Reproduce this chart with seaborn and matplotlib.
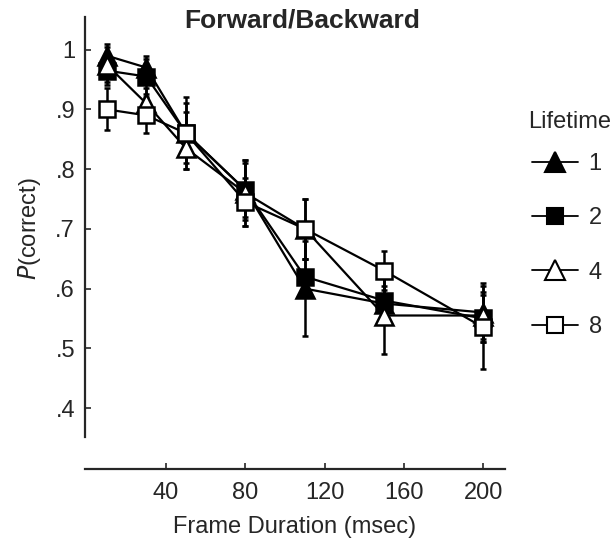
import numpy as np
import pandas as pd
import matplotlib
matplotlib.use('Agg')
import matplotlib.pyplot as plt
import seaborn as sns
from matplotlib.lines import Line2D

# frame durations (msec)
durations = [10, 30, 50, 80, 110, 150, 200]
lifetimes = ['1', '2', '4', '8']

# P(correct) per lifetime
p_life1 = [0.99, 0.97, 0.86, 0.765, 0.60, 0.575, 0.56]
p_life2 = [0.965, 0.955, 0.86, 0.765, 0.62, 0.58, 0.55]
p_life4 = [0.975, 0.91, 0.835, 0.76, 0.70, 0.555, 0.555]
p_life8 = [0.90, 0.89, 0.86, 0.745, 0.70, 0.63, 0.535]

# error bar half-widths
err_life1 = [0.02, 0.02, 0.05, 0.05, 0.08, 0.03, 0.05]
err_life2 = [0.025, 0.03, 0.035, 0.045, 0.03, 0.04, 0.04]
err_life4 = [0.03, 0.025, 0.035, 0.055, 0.05, 0.065, 0.04]
err_life8 = [0.035, 0.03, 0.06, 0.04, 0.05, 0.033, 0.07]

series = {'1': (p_life1, err_life1), '2': (p_life2, err_life2),
          '4': (p_life4, err_life4), '8': (p_life8, err_life8)}
marker_map = {'1': '^', '2': 's', '4': '^', '8': 's'}
fill_map = {'1': 'black', '2': 'black', '4': 'white', '8': 'white'}

rows = []
for lt, (vals, errs) in series.items():
    for d, v, e in zip(durations, vals, errs):
        rows.append({'Frame': d, 'P': v, 'err': e, 'Lifetime': lt})
df = pd.DataFrame(rows)

sns.set_style('ticks')
plt.rcParams['font.family'] = ['Liberation Sans', 'DejaVu Sans']

fig = plt.figure(figsize=(6.1, 5.41), dpi=100)
ax = fig.add_axes([0.139, 0.133, 0.689, 0.836])

for lt in lifetimes:
    sub = df[df['Lifetime'] == lt]
    ax.errorbar(sub['Frame'], sub['P'], yerr=sub['err'], fmt='none',
                ecolor='black', elinewidth=1.8, capsize=2.5, capthick=1.8, zorder=2)
    sns.lineplot(data=sub, x='Frame', y='P', ax=ax, color='black', lw=1.6,
                 marker=marker_map[lt], markersize=13 if marker_map[lt] == '^' else 12,
                 markerfacecolor=fill_map[lt], markeredgecolor='black',
                 markeredgewidth=1.8, zorder=3, legend=False)

ax.set_xlim(-1, 211)
ax.set_ylim(0.298, 1.055)
ax.spines['top'].set_visible(False)
ax.spines['right'].set_visible(False)
ax.spines['left'].set_bounds(0.351, 1.055)
ax.spines['left'].set_linewidth(1.6)
ax.spines['bottom'].set_linewidth(1.6)

ax.set_xticks([40, 80, 120, 160, 200])
ax.set_yticks([0.4, 0.5, 0.6, 0.7, 0.8, 0.9, 1.0])
ax.set_yticklabels(['.4', '.5', '.6', '.7', '.8', '.9', '1'])
ax.tick_params(direction='in', length=4, width=1.2, labelsize=17)
ax.tick_params(axis='x', pad=9)
ax.tick_params(axis='y', pad=7)

ax.set_xlabel('Frame Duration (msec)', fontsize=17, labelpad=9)
ax.set_ylabel('$P$(correct)', fontsize=17, labelpad=9, y=0.531)
fig.text(0.496, 1 - 27 / 541, 'Forward/Backward', fontsize=19, fontweight='bold',
         ha='center', va='baseline')

handles = [Line2D([], [], color='black', lw=1.3, marker=marker_map[lt],
                  markersize=14 if marker_map[lt] == '^' else 11,
                  markerfacecolor=fill_map[lt], markeredgecolor='black',
                  markeredgewidth=1.5) for lt in lifetimes]
fig.text(528 / 610, 1 - 122 / 541, 'Lifetime', fontsize=17, ha='left', va='center')
leg = ax.legend(handles, lifetimes, loc='upper left',
                bbox_to_anchor=(532 / 610, 1 - 153 / 541), bbox_transform=fig.transFigure,
                frameon=False, fontsize=17, borderpad=0, borderaxespad=0,
                labelspacing=1.37, handlelength=1.95, handletextpad=0.45)

fig.savefig('out.png', dpi=100)
